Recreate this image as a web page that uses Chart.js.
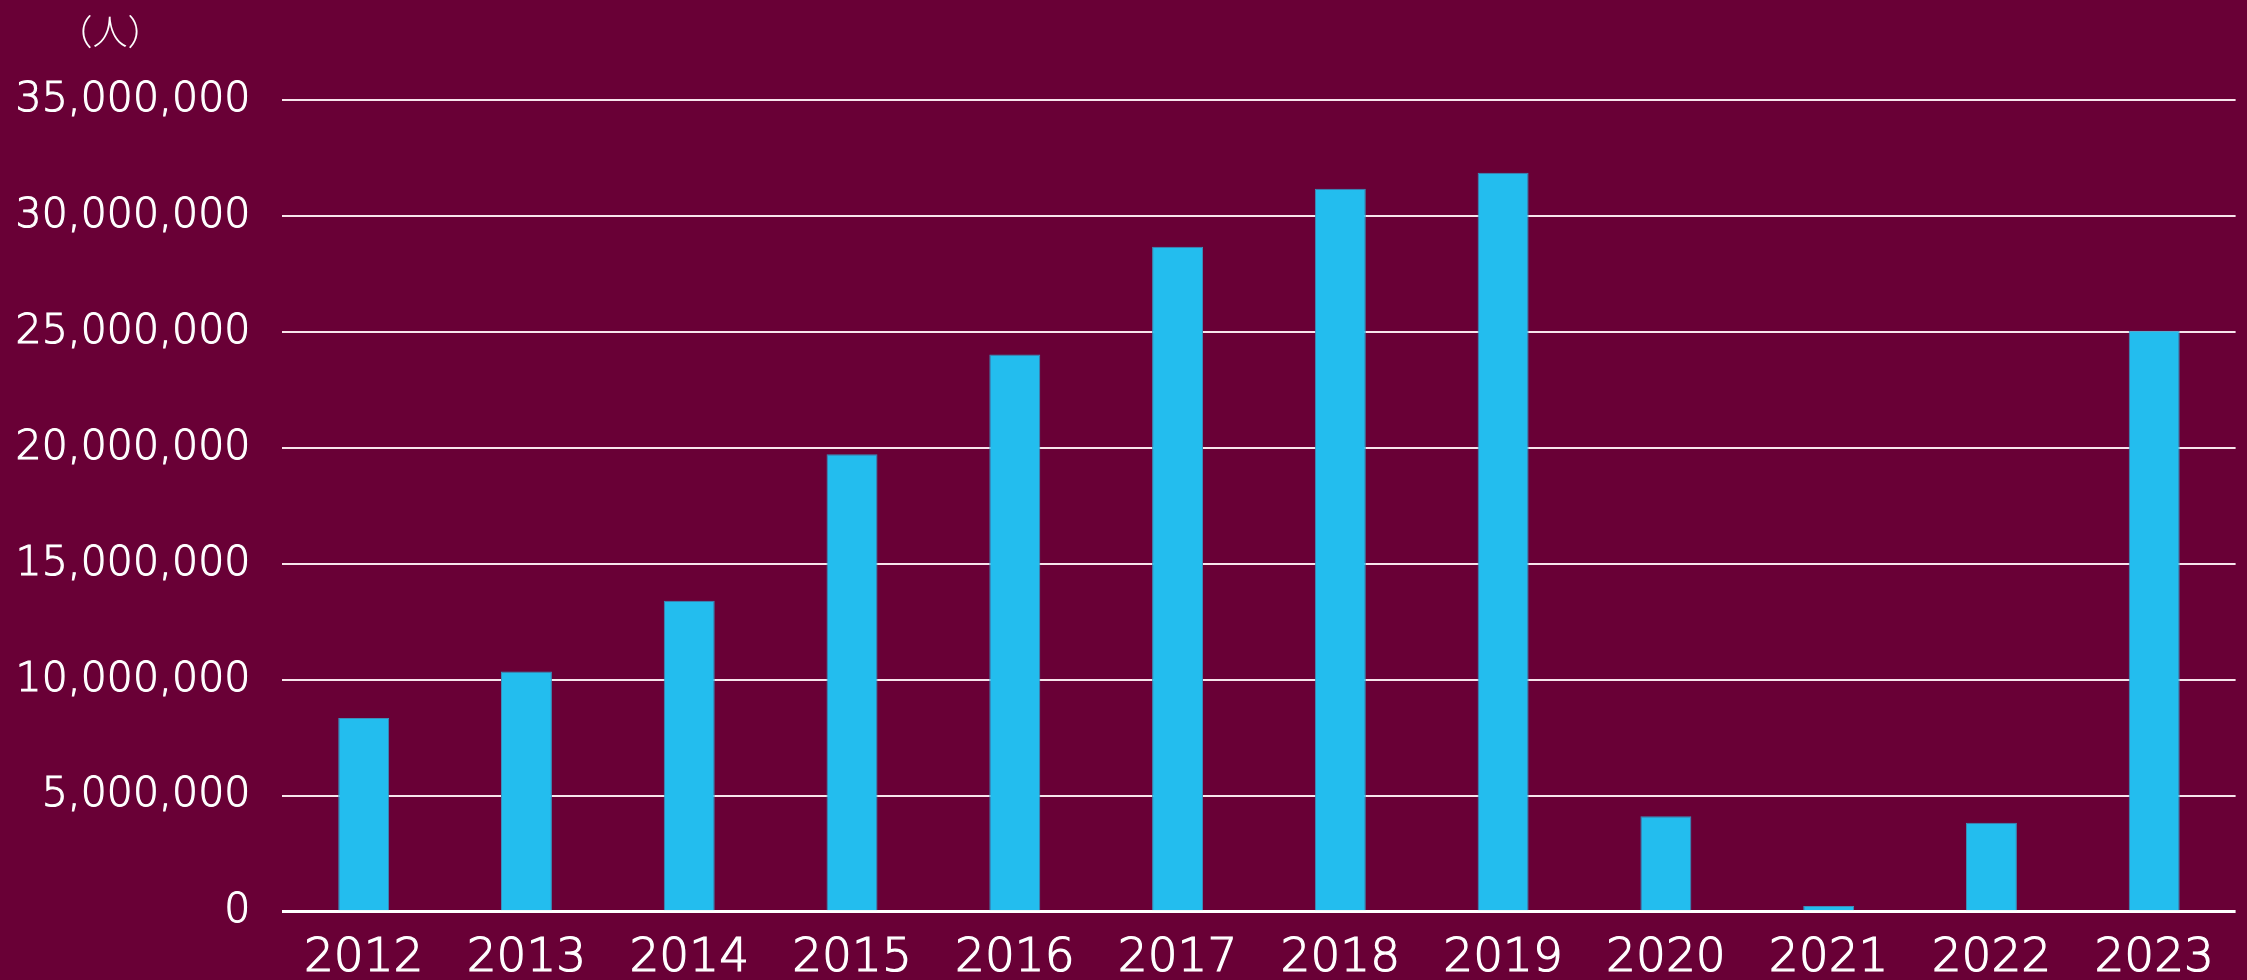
<!DOCTYPE html>
<html lang="ja">
<head>
<meta charset="utf-8">
<title>訪日外客数</title>
<script src="https://cdn.jsdelivr.net/npm/chart.js@4"></script>
<style>
  html, body { margin: 0; padding: 0; background: #690036; overflow: hidden; }
  #wrap { position: relative; width: 2247px; height: 980px; }
  #unit { position: absolute; left: 10px; top: 10px; width: 200px; text-align: center;
          font-family: 'Noto Sans CJK JP', sans-serif; font-weight: 300; font-size: 35px;
          line-height: 40px; color: #ffffff; }
  canvas { position: absolute; left: 0; top: 0; }
</style>
</head>
<body>
<div id="wrap">
  <canvas id="c" width="2247" height="980"></canvas>
  <div id="unit">（人）</div>
</div>
<script>
const years = ['2012', '2013', '2014', '2015', '2016', '2017', '2018', '2019', '2020', '2021', '2022', '2023'];
const visitors = [8358105, 10363904, 13413467, 19737409, 24039700, 28691073, 31191856, 31882049, 4115828, 245862, 3832110, 25066350];
const yTicks = [0, 5000000, 10000000, 15000000, 20000000, 25000000, 30000000, 35000000];

const FONT = "'DejaVu Sans', sans-serif";

new Chart(document.getElementById('c'), {
  type: 'bar',
  data: {
    labels: years,
    datasets: [{
      data: visitors,
      backgroundColor: '#23bdee',
      borderColor: '#3b8fba',
      borderWidth: 1,
      categoryPercentage: 1.0,
      barPercentage: 0.313
    }]
  },
  options: {
    responsive: false,
    animation: false,
    devicePixelRatio: 1,
    layout: { padding: { left: 0, right: 11.4, top: 100.4, bottom: 0 } },
    plugins: { legend: { display: false }, tooltip: { enabled: false }, title: { display: false } },
    scales: {
      x: {
        offset: true,
        grid: { display: false, drawTicks: false },
        border: { display: false },
        ticks: {
          color: '#ffffff',
          textStrokeColor: '#ffffff',
          textStrokeWidth: 1.2,
          font: { family: FONT, size: 47, weight: 200 },
          padding: 19,
          maxRotation: 0,
          autoSkip: false
        },
        afterFit: (s) => { s.height = 68.3; }
      },
      y: {
        min: 0,
        max: 35000000,
        afterBuildTicks: (s) => { s.ticks = yTicks.map(v => ({ value: v })); },
        grid: {
          drawTicks: false,
          color: (ctx) => ctx.tick && ctx.tick.value === 0 ? '#ffffff' : 'rgba(255,240,246,0.95)',
          lineWidth: (ctx) => ctx.tick && ctx.tick.value === 0 ? 3 : 2
        },
        border: { display: false },
        ticks: {
          color: '#ffffff',
          textStrokeColor: '#ffffff',
          textStrokeWidth: 1.1,
          font: { family: FONT, size: 41, weight: 200 },
          padding: 32,
          callback: (v) => Number(v).toLocaleString('en-US')
        },
        afterFit: (s) => { s.width = 282.3; }
      }
    }
  }
});
</script>
</body>
</html>
